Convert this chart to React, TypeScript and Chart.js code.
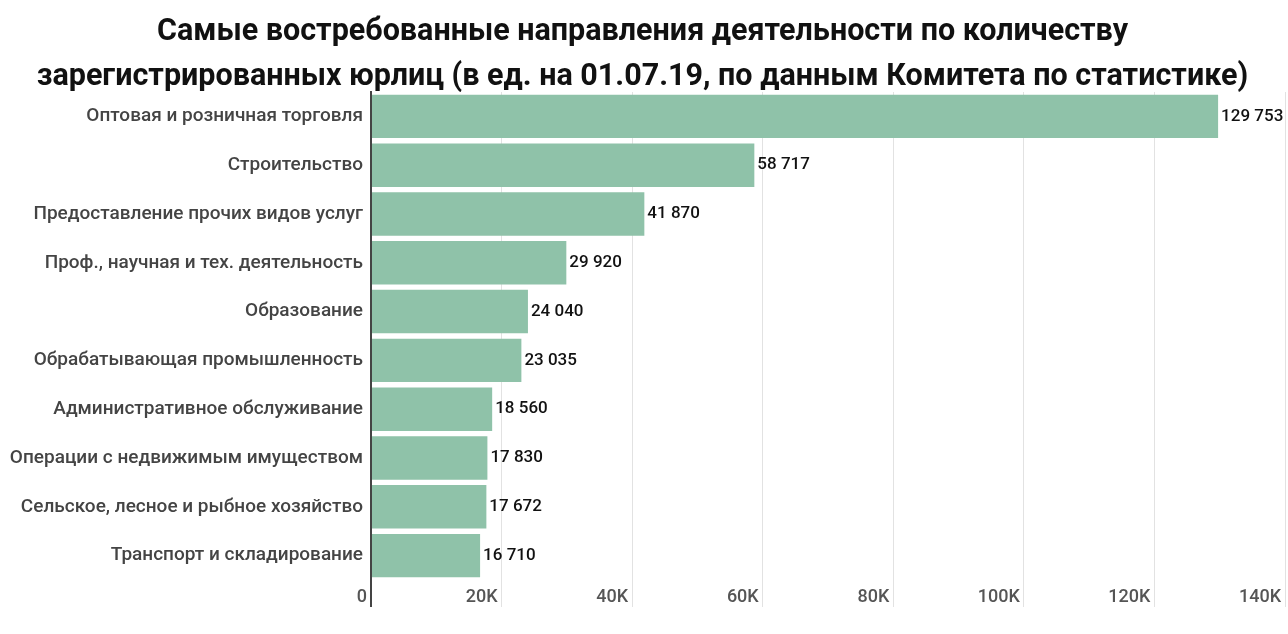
import React, { useEffect, useRef } from "react";
import { Chart, registerables } from "chart.js";

Chart.register(...registerables);

const titleLines = [
  "Самые востребованные направления деятельности по количеству",
  "зарегистрированных юрлиц (в ед. на 01.07.19, по данным Комитета по статистике)",
];

const categories = [
  "Оптовая и розничная торговля",
  "Строительство",
  "Предоставление прочих видов услуг",
  "Проф., научная и тех. деятельность",
  "Образование",
  "Обрабатывающая промышленность",
  "Административное обслуживание",
  "Операции с недвижимым имуществом",
  "Сельское, лесное и рыбное хозяйство",
  "Транспорт и складирование",
];

const values = [129753, 58717, 41870, 29920, 24040, 23035, 18560, 17830, 17672, 16710];

const xMin = 0;
const xMax = 140000;
const xStep = 20000;

const fmt = (v: number) => String(v).replace(/\B(?=(\d{3})+(?!\d))/g, " ");

const valueLabels = {
  id: "valueLabels",
  afterDatasetsDraw(chart: any) {
    const ctx = chart.ctx;
    const meta = chart.getDatasetMeta(0);
    ctx.save();
    ctx.font = "500 17px Roboto";
    ctx.fillStyle = "#111";
    ctx.textAlign = "left";
    ctx.textBaseline = "middle";
    meta.data.forEach((el: any, i: number) => {
      ctx.fillText(fmt(values[i]), el.x + 3, el.y);
    });
    ctx.restore();
  },
};

export default function App() {
  const ref = useRef<HTMLCanvasElement>(null);
  useEffect(() => {
    document.body.style.margin = "0";
    const chart = new Chart(ref.current!, {
      type: "bar",
      data: {
        labels: categories,
        datasets: [
          {
            data: values,
            backgroundColor: "#8fc2a9",
            barPercentage: 0.89,
            categoryPercentage: 1,
          },
        ],
      },
      options: {
        indexAxis: "y",
        responsive: false,
        animation: false,
        devicePixelRatio: 1,
        layout: { padding: { left: 0, right: 3, top: 0, bottom: 0 } },
        plugins: {
          legend: { display: false },
          tooltip: { enabled: false },
          title: {
            display: true,
            text: titleLines,
            color: "#111",
            font: { family: "Roboto", size: 30.5, weight: "bold", lineHeight: 1.475 },
            padding: { top: 10, bottom: -8 },
          },
        },
        scales: {
          x: {
            type: "linear",
            min: xMin,
            max: xMax,
            afterFit: (s: any) => {
              s.height = 54;
            },
            ticks: {
              stepSize: xStep,
              align: "end",
              labelOffset: -4,
              padding: -20,
              color: "#555",
              font: { family: "Roboto", size: 18, weight: "500" },
              callback: (v: any) => (v === 0 ? "0" : v / 1000 + "K"),
            },
            grid: {
              color: (c: any) => (c.index === 0 ? "#444" : "#e2e2e2"),
              lineWidth: (c: any) => (c.index === 0 ? 2 : 1),
              tickLength: 27,
              drawTicks: true,
            },
            border: { display: false },
          },
          y: {
            afterFit: (s: any) => {
              s.width = 371;
            },
            ticks: {
              color: "#444",
              padding: 0,
              font: { family: "Roboto", size: 19, weight: "500" },
            },
            grid: { display: false },
            border: { display: true, color: "#444", width: 2 },
          },
        },
      },
      plugins: [valueLabels],
    });
    return () => chart.destroy();
  }, []);
  return (
    <div style={{ width: 1288, height: 634 }}>
      <canvas ref={ref} width={1288} height={634} />
    </div>
  );
}
